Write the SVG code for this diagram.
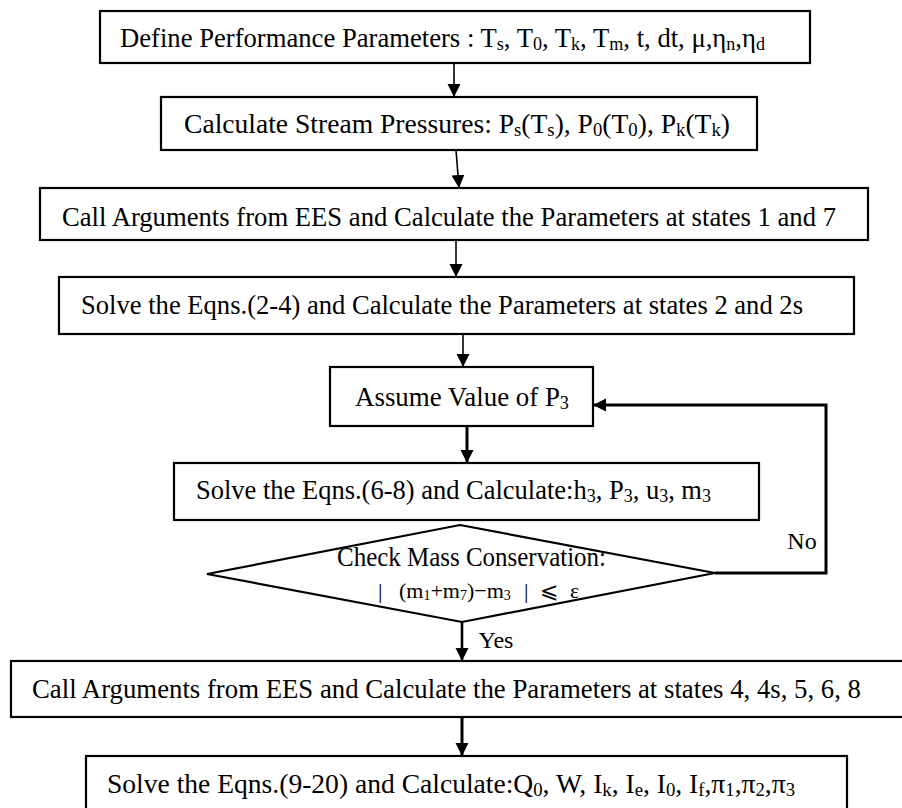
<svg xmlns="http://www.w3.org/2000/svg" width="902" height="808" viewBox="0 0 902 808" font-family="'Liberation Serif', serif">
<style>
.box{fill:#fff;stroke:#000;stroke-width:2.2}
.t{font-family:'Liberation Serif','Times New Roman',serif;font-size:26.5px;fill:#000;text-anchor:middle}
.s{font-size:18px}
.m{font-family:'Liberation Serif','Noto Sans CJK SC',serif;font-size:22px;fill:#000}
.ms{font-size:14px}
.c{fill:none;stroke:#000;stroke-width:1.6}
.ck{fill:none;stroke:#000;stroke-width:3}
</style>
<defs>
<marker id="ah" markerUnits="userSpaceOnUse" markerWidth="16" markerHeight="16" viewBox="0 0 16 16" refX="13" refY="8" orient="auto">
<path d="M0,1.5 L13,8 L0,14.5 Z" fill="#000"/>
</marker>
</defs>
<rect width="902" height="808" fill="#fff"/>
<g id="connectors">
<line class="c" x1="454" y1="63" x2="454" y2="97" marker-end="url(#ah)"/>
<line class="c" x1="456" y1="150" x2="459" y2="188" marker-end="url(#ah)"/>
<line class="c" x1="456" y1="240" x2="456" y2="277" marker-end="url(#ah)"/>
<line class="c" x1="463" y1="334" x2="463" y2="367" marker-end="url(#ah)"/>
<line class="ck" x1="467" y1="426" x2="467" y2="463" marker-end="url(#ah)"/>
<polyline class="ck" points="715,573 826,573 826,405 593,405" marker-end="url(#ah)"/>
<line class="ck" style="stroke-width:2.6" x1="462" y1="622" x2="462" y2="661" marker-end="url(#ah)"/>
<line class="ck" x1="462" y1="717" x2="462" y2="756" marker-end="url(#ah)"/>
<text class="t" x="802" y="549" style="font-size:24px">No</text>
<text class="t" x="496" y="648" style="font-size:24px">Yes</text>
</g>
<g id="n1">
<rect class="box" x="100" y="11" width="710" height="52"/>
<text class="t" x="442.5" y="47" textLength="645" lengthAdjust="spacingAndGlyphs">Define Performance Parameters : T<tspan class="s" dy="3">s</tspan><tspan dy="-3">, T</tspan><tspan class="s" dy="3">0</tspan><tspan dy="-3">, T</tspan><tspan class="s" dy="3">k</tspan><tspan dy="-3">, T</tspan><tspan class="s" dy="3">m</tspan><tspan dy="-3">, t, dt, μ,η</tspan><tspan class="s" dy="3">n</tspan><tspan dy="-3">,η</tspan><tspan class="s" dy="3">d</tspan></text>
</g>
<g id="n2">
<rect class="box" x="161" y="97" width="596" height="53"/>
<text class="t" x="457" y="133" textLength="546" lengthAdjust="spacingAndGlyphs">Calculate Stream Pressures: P<tspan class="s" dy="3">s</tspan><tspan dy="-3">(T</tspan><tspan class="s" dy="3">s</tspan><tspan dy="-3">), P</tspan><tspan class="s" dy="3">0</tspan><tspan dy="-3">(T</tspan><tspan class="s" dy="3">0</tspan><tspan dy="-3">), P</tspan><tspan class="s" dy="3">k</tspan><tspan dy="-3">(T</tspan><tspan class="s" dy="3">k</tspan><tspan dy="-3">)</tspan></text>
</g>
<g id="n3">
<rect class="box" x="40" y="188" width="828" height="52"/>
<text class="t" x="449" y="226" textLength="774" lengthAdjust="spacingAndGlyphs">Call Arguments from EES and Calculate the Parameters at states 1 and 7</text>
</g>
<g id="n4">
<rect class="box" x="59" y="277" width="795" height="57"/>
<text class="t" x="442" y="314" textLength="722" lengthAdjust="spacingAndGlyphs">Solve the Eqns.(2-4) and Calculate the Parameters at states 2 and 2s</text>
</g>
<g id="n5">
<rect class="box" x="330" y="367" width="263" height="59"/>
<text class="t" x="462" y="406" textLength="214" lengthAdjust="spacingAndGlyphs">Assume Value of P<tspan class="s" dy="3">3</tspan></text>
</g>
<g id="n6">
<rect class="box" x="174" y="463" width="585" height="57"/>
<text class="t" x="453.5" y="499" textLength="515" lengthAdjust="spacingAndGlyphs">Solve the Eqns.(6-8) and Calculate:h<tspan class="s" dy="3">3</tspan><tspan dy="-3">, P</tspan><tspan class="s" dy="3">3</tspan><tspan dy="-3">, u</tspan><tspan class="s" dy="3">3</tspan><tspan dy="-3">, m</tspan><tspan class="s" dy="3">3</tspan></text>
</g>
<g id="n7">
<polygon class="box" points="460,525 715,573 462,622 207,574"/>
<text class="t" x="471.5" y="566" textLength="269" lengthAdjust="spacingAndGlyphs">Check Mass Conservation:</text>
<text class="m" y="598"><tspan x="378">|</tspan><tspan x="399">(m</tspan><tspan class="ms" dy="2">1</tspan><tspan dy="-2">+m</tspan><tspan class="ms" dy="2">7</tspan><tspan dy="-2">)−m</tspan><tspan class="ms" dy="2">3</tspan><tspan x="524" dy="-2">|</tspan><tspan x="540">⩽</tspan><tspan x="570">ε</tspan></text>
</g>
<g id="n8">
<rect class="box" x="11" y="661" width="895" height="56"/>
<text class="t" x="446.5" y="698" textLength="829" lengthAdjust="spacingAndGlyphs">Call Arguments from EES and Calculate the Parameters at states 4, 4s, 5, 6, 8</text>
</g>
<g id="n9">
<rect class="box" x="86" y="756" width="761" height="70"/>
<text class="t" x="451" y="793" textLength="688" lengthAdjust="spacingAndGlyphs">Solve the Eqns.(9-20) and Calculate:Q<tspan class="s" dy="3">0</tspan><tspan dy="-3">, W, I</tspan><tspan class="s" dy="3">k</tspan><tspan dy="-3">, I</tspan><tspan class="s" dy="3">e</tspan><tspan dy="-3">, I</tspan><tspan class="s" dy="3">0</tspan><tspan dy="-3">, I</tspan><tspan class="s" dy="3">f</tspan><tspan dy="-3">,π</tspan><tspan class="s" dy="3">1</tspan><tspan dy="-3">,π</tspan><tspan class="s" dy="3">2</tspan><tspan dy="-3">,π</tspan><tspan class="s" dy="3">3</tspan></text>
</g>
</svg>
